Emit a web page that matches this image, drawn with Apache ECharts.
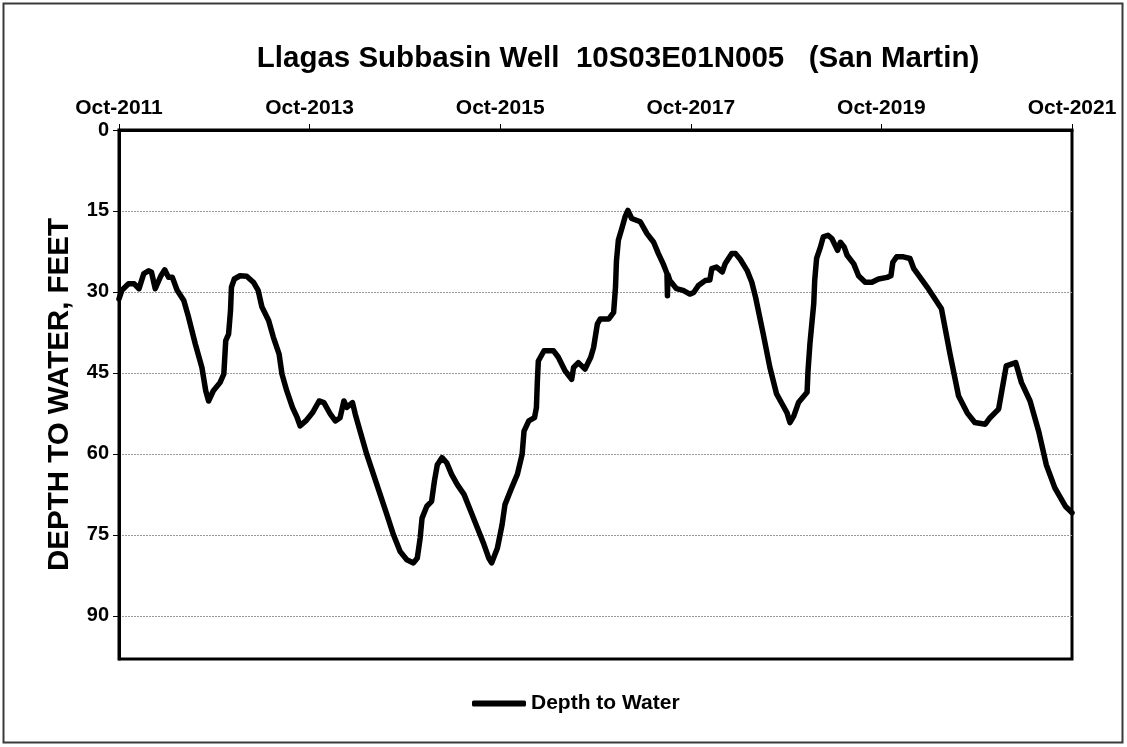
<!DOCTYPE html>
<html>
<head>
<meta charset="utf-8">
<script src="https://cdn.jsdelivr.net/npm/echarts@6/dist/echarts.min.js"></script>
<style>
html,body{margin:0;padding:0;background:#fff;}
#chart{width:1127px;height:747px;}
</style>
</head>
<body>
<div id="chart"></div>
<script>
// ---- data ----
const seriesName = 'Depth to Water';
const titleText = 'Llagas Subbasin Well  10S03E01N005   (San Martin)';
const yAxisTitle = 'DEPTH TO WATER, FEET';
const startYear = 2011.75; // Oct-2011
const xTickYears = [2011, 2013, 2015, 2017, 2019, 2021];
const yTicks = [0, 15, 30, 45, 60, 75, 90];

const decimalYears = [
  2011.75, 2011.78, 2011.85, 2011.91, 2011.96, 2012.01, 2012.06, 2012.09, 2012.13, 2012.19,
  2012.23, 2012.27, 2012.31, 2012.36, 2012.43, 2012.48, 2012.55, 2012.62, 2012.66, 2012.69,
  2012.74, 2012.81, 2012.85, 2012.87, 2012.90, 2012.92, 2012.93, 2012.96, 2013.02, 2013.09,
  2013.16, 2013.21, 2013.25, 2013.32, 2013.37, 2013.43, 2013.46, 2013.51, 2013.57, 2013.62,
  2013.65, 2013.71, 2013.78, 2013.85, 2013.90, 2013.97, 2014.02, 2014.07, 2014.11, 2014.14,
  2014.20, 2014.23, 2014.28, 2014.35, 2014.42, 2014.49, 2014.56, 2014.63, 2014.70, 2014.77,
  2014.84, 2014.88, 2014.91, 2014.93, 2014.98, 2015.03, 2015.06, 2015.09, 2015.14, 2015.19,
  2015.24, 2015.30, 2015.37, 2015.44, 2015.51, 2015.58, 2015.63, 2015.66, 2015.72, 2015.77,
  2015.80, 2015.87, 2015.93, 2015.98, 2016.00, 2016.05, 2016.11, 2016.13, 2016.14, 2016.15,
  2016.21, 2016.31, 2016.36, 2016.43, 2016.50, 2016.52, 2016.57, 2016.64, 2016.70, 2016.73,
  2016.77, 2016.80, 2016.89, 2016.94, 2016.96, 2016.97, 2016.99, 2017.03, 2017.06, 2017.09,
  2017.13, 2017.22, 2017.29, 2017.36, 2017.41, 2017.46, 2017.50, 2017.505, 2017.51, 2017.53,
  2017.60, 2017.67, 2017.74, 2017.78, 2017.83, 2017.90, 2017.95, 2017.97, 2018.02, 2018.08,
  2018.11, 2018.18, 2018.22, 2018.27, 2018.34, 2018.39, 2018.43, 2018.51, 2018.58, 2018.65,
  2018.71, 2018.76, 2018.79, 2018.83, 2018.88, 2018.97, 2018.98, 2019.00, 2019.02, 2019.04,
  2019.05, 2019.07, 2019.11, 2019.14, 2019.19, 2019.23, 2019.29, 2019.32, 2019.36, 2019.39,
  2019.46, 2019.51, 2019.58, 2019.65, 2019.72, 2019.81, 2019.85, 2019.87, 2019.91, 2019.98,
  2020.05, 2020.09, 2020.23, 2020.38, 2020.47, 2020.56, 2020.65, 2020.73, 2020.84, 2020.89,
  2020.98, 2021.06, 2021.16, 2021.22, 2021.31, 2021.40, 2021.48, 2021.57, 2021.68, 2021.75
];
const depthFeet = [
  31.3, 29.7, 28.5, 28.5, 29.4, 26.6, 26.1, 26.3, 29.4, 27.0,
  25.9, 27.3, 27.3, 29.7, 31.6, 34.7, 39.6, 44.0, 48.3, 50.2,
  48.3, 46.8, 45.2, 39.0, 37.8, 33.5, 29.1, 27.6, 27.0, 27.1,
  28.2, 29.7, 32.8, 35.3, 38.4, 41.5, 45.2, 48.3, 51.4, 53.3,
  54.8, 53.9, 52.4, 50.2, 50.5, 52.7, 53.9, 53.3, 50.2, 51.4,
  50.5, 52.7, 55.8, 60.1, 63.8, 67.5, 71.2, 75.0, 78.1, 79.6,
  80.2, 79.3, 75.6, 71.9, 69.7, 68.8, 65.0, 62.0, 60.7, 61.7,
  63.8, 65.7, 67.5, 70.6, 73.7, 76.8, 79.3, 80.2, 77.5, 73.1,
  69.4, 66.3, 63.8, 60.1, 55.8, 53.9, 53.3, 51.4, 46.5, 42.8,
  40.9, 40.9, 42.1, 44.6, 46.2, 44.0, 43.1, 44.3, 42.1, 40.3,
  35.9, 35.0, 35.0, 33.8, 29.1, 24.2, 20.4, 18.0, 16.1, 14.9,
  16.4, 17.0, 19.2, 20.8, 22.9, 24.8, 26.6, 30.7, 26.8, 27.9,
  29.4, 29.7, 30.4, 30.1, 28.8, 27.9, 27.8, 25.7, 25.4, 26.3,
  24.8, 22.9, 22.9, 24.0, 26.0, 28.2, 31.0, 37.8, 44.0, 48.9,
  50.8, 52.4, 54.2, 53.0, 50.5, 48.6, 44.6, 39.6, 35.9, 32.2,
  27.9, 23.8, 21.7, 19.8, 19.5, 20.1, 22.3, 20.8, 21.7, 23.2,
  24.8, 27.0, 28.2, 28.2, 27.6, 27.3, 27.0, 24.5, 23.5, 23.5,
  23.8, 25.7, 29.1, 33.1, 41.5, 49.3, 52.4, 54.2, 54.5, 53.3,
  51.7, 43.7, 43.1, 46.8, 50.2, 55.8, 62.0, 66.3, 69.7, 70.9
];

// ---- build ----
const seriesData = decimalYears.map((y, i) => [+(y - startYear).toFixed(4), depthFeet[i]]);
const FONT = '"Liberation Sans", Arial, sans-serif';

const chart = echarts.init(document.getElementById('chart'), null, {renderer: 'canvas'});
chart.setOption({
  backgroundColor: '#fff',
  animation: false,
  title: {
    text: titleText,
    left: 618,
    top: 44,
    textAlign: 'center',
    padding: 0,
    textStyle: {fontFamily: FONT, fontSize: 29.5, fontWeight: 'bold', color: '#000'}
  },
  legend: {
    data: [seriesName],
    left: 467,
    top: 688,
    itemWidth: 54,
    itemHeight: 6,
    itemGap: 5,
    icon: 'roundRect',
    textStyle: {fontFamily: FONT, fontSize: 21, fontWeight: 'bold', color: '#000'}
  },
  grid: {
    left: 119, right: 55, top: 130, bottom: 88,
    show: true, borderColor: '#000', borderWidth: 3, backgroundColor: '#fff'
  },
  xAxis: {
    type: 'value',
    position: 'top',
    min: 0,
    max: 10,
    interval: 2,
    axisLine: {show: true, lineStyle: {color: '#000', width: 3}},
    axisTick: {show: true, inside: false, length: 6, lineStyle: {color: '#000', width: 1}},
    axisLabel: {
      margin: 11,
      fontFamily: FONT, fontSize: 21, fontWeight: 'bold', color: '#000',
      formatter: v => {
        const idx = Math.round(v / 2);
        return (Math.abs(v - idx * 2) < 1e-6 && xTickYears[idx] !== undefined) ? 'Oct-' + xTickYears[idx] : '';
      }
    },
    splitLine: {show: false}
  },
  yAxis: {
    type: 'value',
    inverse: true,
    min: 0,
    max: 98,
    interval: 15,
    name: yAxisTitle,
    nameLocation: 'middle',
    nameGap: 44,
    nameTextStyle: {fontFamily: FONT, fontSize: 29.5, fontWeight: 'bold', color: '#000'},
    axisLine: {show: true, lineStyle: {color: '#000', width: 3}},
    axisTick: {show: true, inside: false, length: 6, lineStyle: {color: '#000', width: 1},
      customValues: yTicks},
    axisLabel: {
      margin: 10,
      fontFamily: FONT, fontSize: 20, fontWeight: 'bold', color: '#000',
      customValues: yTicks,
      formatter: v => String(v)
    },
    splitLine: {show: true, lineStyle: {color: '#9a9a9a', width: 1, type: [2, 1]}}
  },
  graphic: [{
    type: 'rect',
    shape: {x: 3.5, y: 3.5, width: 1119, height: 739},
    style: {fill: null, stroke: '#3a3a3a', lineWidth: 2},
    silent: true,
    z: -1
  }],
  series: [{
    name: seriesName,
    type: 'line',
    data: seriesData,
    showSymbol: false,
    symbol: 'none',
    lineStyle: {color: '#000', width: 5.5, join: 'round', cap: 'round'},
    itemStyle: {color: '#000'},
    smooth: false
  }]
});
</script>
</body>
</html>
